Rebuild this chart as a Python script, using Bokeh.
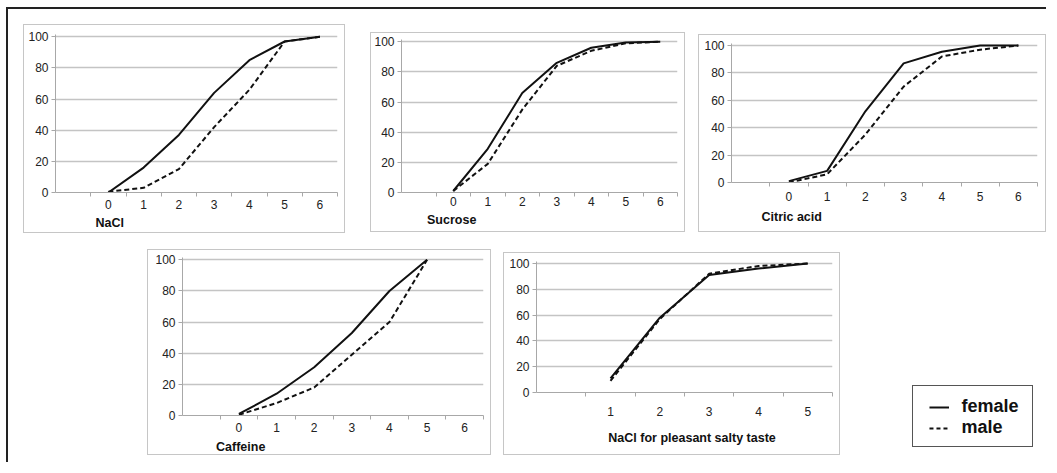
from bokeh.plotting import figure
from bokeh.models import Range1d, FixedTicker, LinearAxis, Legend, LegendItem, Spacer
from bokeh.layouts import row, column
from bokeh.embed import file_html
from bokeh.resources import INLINE

# ---------------- data ----------------
conc_x = [0, 1, 2, 3, 4, 5, 6]
conc_ticks = [0, 1, 2, 3, 4, 5, 6]

nacl_female = [0, 16, 37, 64, 85, 97, 100]
nacl_male = [0.5, 3, 15, 42, 66, 97, 100]

sucrose_female = [1, 29, 66, 86, 96, 99.5, 100]
sucrose_male = [1, 19, 55, 84, 94, 99, 100]

citric_female = [1, 8.5, 52, 87, 95.5, 100, 100]
citric_male = [0, 6, 35, 70, 92, 97, 100]

caffeine_x = [0, 1, 2, 3, 4, 5]
caffeine_female = [1, 14, 31, 53, 80, 100]
caffeine_male = [0.5, 8, 18, 39, 60, 100]

pleasant_x = [1, 2, 3, 4, 5]
pleasant_ticks = [1, 2, 3, 4, 5]
pleasant_female = [11, 58, 91, 96, 100]
pleasant_male = [9, 57, 92, 98, 100]

y_ticks = [0, 20, 40, 60, 80, 100]
series_names = ["female", "male"]
panel_titles = ["NaCl", "Sucrose", "Citric acid", "Caffeine", "NaCl for pleasant salty taste"]

# ---------------- style ----------------
FONT = "Liberation Sans"
GRAY_AXIS = "#a8a8a8"
GRAY_GRID = "#c4c4c4"
PANEL_BORDER = "1px solid #c6c6c6"
INK = "#111111"
LABEL_CAL = 10      # px from axis line to visual centre of tick label at standoff 0
LABEL_H = 14        # height taken by a 12px tick-label row
Y_TOP = 101.5


def panel(title, xs, female, male, ticks, box, frame, label_y, title_y, title_cx):
    bx0, by0, bx1, by1 = box
    fx0, fy0, fx1, fy1 = frame
    w = bx1 - bx0 - 1
    h = by1 - by0 - 1
    x_lo, x_hi = ticks[0] - 1.5, ticks[-1] + 0.5
    p = figure(width=w, height=h, output_backend="svg", toolbar_location=None,
               x_range=Range1d(x_lo, x_hi), y_range=Range1d(0, Y_TOP),
               min_border_left=fx0 - bx0 - 1, min_border_right=bx1 - fx1 - 1,
               min_border_top=fy0 - by0 - 1, min_border_bottom=by1 - fy1 - 1,
               outline_line_color=None, background_fill_color="white",
               border_fill_color="white")
    p.frame_align = False
    p.styles = {"border": PANEL_BORDER}

    label_gap = label_y - fy1

    xa = p.xaxis[0]
    xa.ticker = FixedTicker(ticks=ticks,
                            minor_ticks=[ticks[0] - 0.5 + i for i in range(len(ticks) + 1)])
    xa.axis_line_color = GRAY_AXIS
    xa.major_tick_line_color = None
    xa.major_tick_out = 0
    xa.major_tick_in = 0
    xa.minor_tick_line_color = GRAY_AXIS
    xa.minor_tick_out = 4
    xa.minor_tick_in = 0
    xa.major_label_text_font = FONT
    xa.major_label_text_font_size = "12px"
    xa.major_label_text_color = "#222222"
    xa.major_label_standoff = label_gap - LABEL_CAL

    ya = p.yaxis[0]
    ya.ticker = FixedTicker(ticks=y_ticks, minor_ticks=[])
    ya.axis_line_color = GRAY_AXIS
    ya.major_tick_line_color = GRAY_AXIS
    ya.major_tick_out = 4
    ya.major_tick_in = 0
    ya.minor_tick_line_color = None
    ya.major_label_text_font = FONT
    ya.major_label_text_font_size = "12px"
    ya.major_label_text_color = "#222222"
    ya.major_label_standoff = 3

    p.xgrid.grid_line_color = None
    p.ygrid.ticker = FixedTicker(ticks=y_ticks)
    p.ygrid.grid_line_color = GRAY_GRID
    p.ygrid.grid_line_width = 1.5

    p.line(xs, female, line_color=INK, line_width=2)
    p.line(xs, male, line_color=INK, line_width=2, line_dash="5 3")

    # caption row under the tick labels: a second bottom axis carrying one label
    cx = round(x_lo + (title_cx - fx0) * (x_hi - x_lo) / (fx1 - fx0), 3)
    cap = LinearAxis(ticker=FixedTicker(ticks=[cx], minor_ticks=[]),
                     major_label_overrides={cx: title})
    cap.axis_line_color = None
    cap.major_tick_line_color = None
    cap.minor_tick_line_color = None
    cap.major_tick_out = 0
    cap.major_tick_in = 0
    cap.minor_tick_out = 0
    cap.major_label_text_font = FONT
    cap.major_label_text_font_size = "12.5px"
    cap.major_label_text_font_style = "bold"
    cap.major_label_text_color = "#111111"
    cap.major_label_standoff = int(round(title_y - label_y - LABEL_H))
    p.add_layout(cap, "below")
    return p


p1 = panel(panel_titles[0], conc_x, nacl_female, nacl_male, conc_ticks,
           (23, 23, 346, 233), (55, 33, 336, 190), 203, 221, 109)
p2 = panel(panel_titles[1], conc_x, sucrose_female, sucrose_male, conc_ticks,
           (372, 31, 688, 232), (403, 38, 678, 190), 200, 218, 453)
p3 = panel(panel_titles[2], conc_x, citric_female, citric_male, conc_ticks,
           (702, 33, 1051, 232), (735, 42, 1040, 180), 195, 215, 795)
p4 = panel(panel_titles[3], caffeine_x, caffeine_female, caffeine_male, conc_ticks,
           (147, 250, 492, 457), (182, 258, 482, 415), 428, 447, 240)
p5 = panel(panel_titles[4], pleasant_x, pleasant_female, pleasant_male, pleasant_ticks,
           (505, 253, 843, 457), (538, 262, 833, 392), 412, 438, 693)

# legend box: the key lines reuse the NaCl series, kept outside the box's view range
lg = figure(width=121, height=62, output_backend="svg", toolbar_location=None,
            x_range=Range1d(-3, -2), y_range=Range1d(-3, -2),
            x_axis_type=None, y_axis_type=None, min_border=0,
            outline_line_color=None)
lg.frame_align = False
lg.styles = {"border": "1px solid #555555"}
lg.grid.visible = False
r_f = lg.line(conc_x, nacl_female, line_color=INK, line_width=2)
r_m = lg.line(conc_x, nacl_male, line_color=INK, line_width=2, line_dash="4 3")
leg = Legend(items=[LegendItem(label=series_names[0], renderers=[r_f]),
                    LegendItem(label=series_names[1], renderers=[r_m])],
             location="center", border_line_color=None, background_fill_alpha=0,
             label_text_font=FONT, label_text_font_size="18px",
             label_text_font_style="bold", label_text_color="#111111",
             label_text_line_height=0.9,
             glyph_width=20, glyph_height=16, label_height=16, label_standoff=13,
             spacing=0, padding=0, margin=0)
lg.add_layout(leg, "center")

# layout (margins = top, right, bottom, left)
p1.margin = (15, 0, 0, 15)
p2.margin = (23, 0, 0, 25)
p3.margin = (25, 0, 0, 13)
p4.margin = (16, 0, 0, 139)
p5.margin = (19, 0, 0, 12)
lg.margin = (152, 0, 0, 72)

root = column(row(p1, p2, p3), row(p4, p5, lg), Spacer(width=1, height=7))
root.styles = {"border-left": "2px solid #222222", "border-top": "2px solid #222222"}
root.margin = (7, 0, 0, 6)

with open("out.html", "w") as f:
    f.write(file_html(root, INLINE))
